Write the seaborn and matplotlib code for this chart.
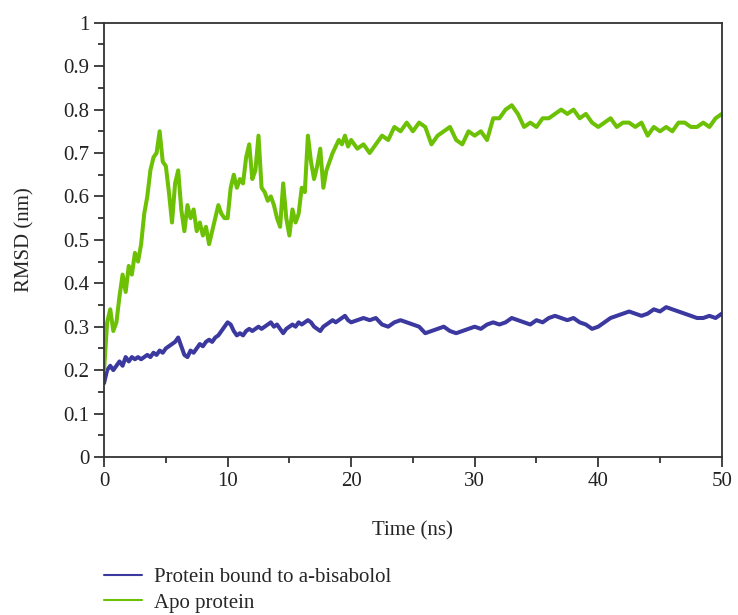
import numpy as np
import pandas as pd
import matplotlib
matplotlib.use("Agg")
import matplotlib.pyplot as plt
from matplotlib.ticker import MultipleLocator
import seaborn as sns

# time axis (ns): 0.25 ns steps up to 20, then 0.5 ns steps
time_ns = list(np.arange(0, 20.01, 0.25)) + list(np.arange(20.5, 50.01, 0.5))

apo = [0.20, 0.31, 0.34, 0.29, 0.31, 0.37, 0.42, 0.38, 0.44, 0.42, 0.47, 0.45, 0.49,
       0.56, 0.60, 0.66, 0.69, 0.70, 0.75, 0.68, 0.67, 0.61, 0.54, 0.63, 0.66, 0.57,
       0.52, 0.58, 0.55, 0.57, 0.52, 0.54, 0.51, 0.53, 0.49, 0.52, 0.55, 0.58, 0.56,
       0.55, 0.55, 0.62, 0.65, 0.62, 0.64, 0.63, 0.69, 0.72, 0.64, 0.66, 0.74, 0.62,
       0.61, 0.59, 0.60, 0.58, 0.55, 0.53, 0.63, 0.55, 0.51, 0.57, 0.54, 0.56, 0.62,
       0.61, 0.74, 0.68, 0.64, 0.67, 0.71, 0.62, 0.66, 0.68, 0.70, 0.715, 0.73, 0.72,
       0.74, 0.715, 0.73,
       0.71, 0.72, 0.70, 0.72, 0.74, 0.73, 0.76, 0.75, 0.77, 0.75, 0.77, 0.76,
       0.72, 0.74, 0.75, 0.76, 0.73, 0.72, 0.75, 0.74, 0.75, 0.73, 0.78, 0.78,
       0.80, 0.81, 0.79, 0.76, 0.77, 0.76, 0.78, 0.78, 0.79, 0.80, 0.79, 0.80,
       0.78, 0.79, 0.77, 0.76, 0.77, 0.78, 0.76, 0.77, 0.77, 0.76, 0.77, 0.74,
       0.76, 0.75, 0.76, 0.75, 0.77, 0.77, 0.76, 0.76, 0.77, 0.76, 0.78, 0.79]

bound = [0.17, 0.20, 0.21, 0.20, 0.21, 0.22, 0.21, 0.23, 0.22, 0.23, 0.225, 0.23, 0.225,
         0.23, 0.235, 0.23, 0.24, 0.235, 0.245, 0.24, 0.25, 0.255, 0.26, 0.265, 0.275,
         0.255, 0.235, 0.23, 0.245, 0.24, 0.25, 0.26, 0.255, 0.265, 0.27, 0.265, 0.275,
         0.28, 0.29, 0.30, 0.31, 0.305, 0.29, 0.28, 0.285, 0.28, 0.29, 0.295, 0.29,
         0.295, 0.30, 0.295, 0.30, 0.305, 0.31, 0.30, 0.305, 0.295, 0.285, 0.295, 0.30,
         0.305, 0.30, 0.31, 0.305, 0.31, 0.315, 0.31, 0.30, 0.295, 0.29, 0.30, 0.305,
         0.31, 0.315, 0.31, 0.315, 0.32, 0.325, 0.315, 0.31,
         0.315, 0.32, 0.315, 0.32, 0.305, 0.30, 0.31, 0.315, 0.31, 0.305, 0.30, 0.285,
         0.29, 0.295, 0.30, 0.29, 0.285, 0.29, 0.295, 0.30, 0.295, 0.305, 0.31, 0.305,
         0.31, 0.32, 0.315, 0.31, 0.305, 0.315, 0.31, 0.32, 0.325, 0.32, 0.315, 0.32,
         0.31, 0.305, 0.295, 0.30, 0.31, 0.32, 0.325, 0.33, 0.335, 0.33, 0.325, 0.33,
         0.34, 0.335, 0.345, 0.34, 0.335, 0.33, 0.325, 0.32, 0.32, 0.325, 0.32, 0.33]

labels = ["Protein bound to a-bisabolol", "Apo protein"]
colors = ["#3b39a0", "#6cc104"]

df = pd.concat([
    pd.DataFrame({"Time (ns)": time_ns, "RMSD (nm)": bound, "series": labels[0]}),
    pd.DataFrame({"Time (ns)": time_ns, "RMSD (nm)": apo, "series": labels[1]}),
])

sns.set_theme(style="ticks")
plt.rcParams['font.family'] = ['Liberation Serif', 'DejaVu Serif']
fs = 15

fig = plt.figure(figsize=(7.38, 6.15), dpi=100)
ax = fig.add_axes([0.141, 0.257, 0.837, 0.706])

sns.lineplot(data=df, x="Time (ns)", y="RMSD (nm)", hue="series",
             palette=dict(zip(labels, colors)), linewidth=2.9, ax=ax, sort=False)

ax.set_xlim(0, 50)
ax.set_ylim(0, 1)
ax.xaxis.set_major_locator(MultipleLocator(10))
ax.xaxis.set_minor_locator(MultipleLocator(5))
ax.yaxis.set_major_locator(MultipleLocator(0.1))
ax.yaxis.set_minor_locator(MultipleLocator(0.05))
ax.yaxis.set_major_formatter(plt.FuncFormatter(lambda v, p: f"{v:g}"))
ax.tick_params(which='major', direction='out', length=7, width=1.2, labelsize=fs,
               colors='#222222')
ax.tick_params(which='minor', direction='out', length=4, width=1.2, colors='#222222')
for s in ax.spines.values():
    s.set_color('#333333')
    s.set_linewidth(1.3)
ax.set_xlabel("Time (ns)", fontsize=fs, labelpad=22)
ax.set_ylabel("RMSD (nm)", fontsize=fs, labelpad=21)

leg = ax.legend(loc='upper left', bbox_to_anchor=(0.0, -0.254), frameon=False,
                fontsize=fs, handlelength=1.8, labelspacing=0.3, handletextpad=0.6,
                borderpad=0, borderaxespad=0)
for h in leg.get_lines():
    h.set_linewidth(1.5)

fig.savefig("out.png", dpi=100)
